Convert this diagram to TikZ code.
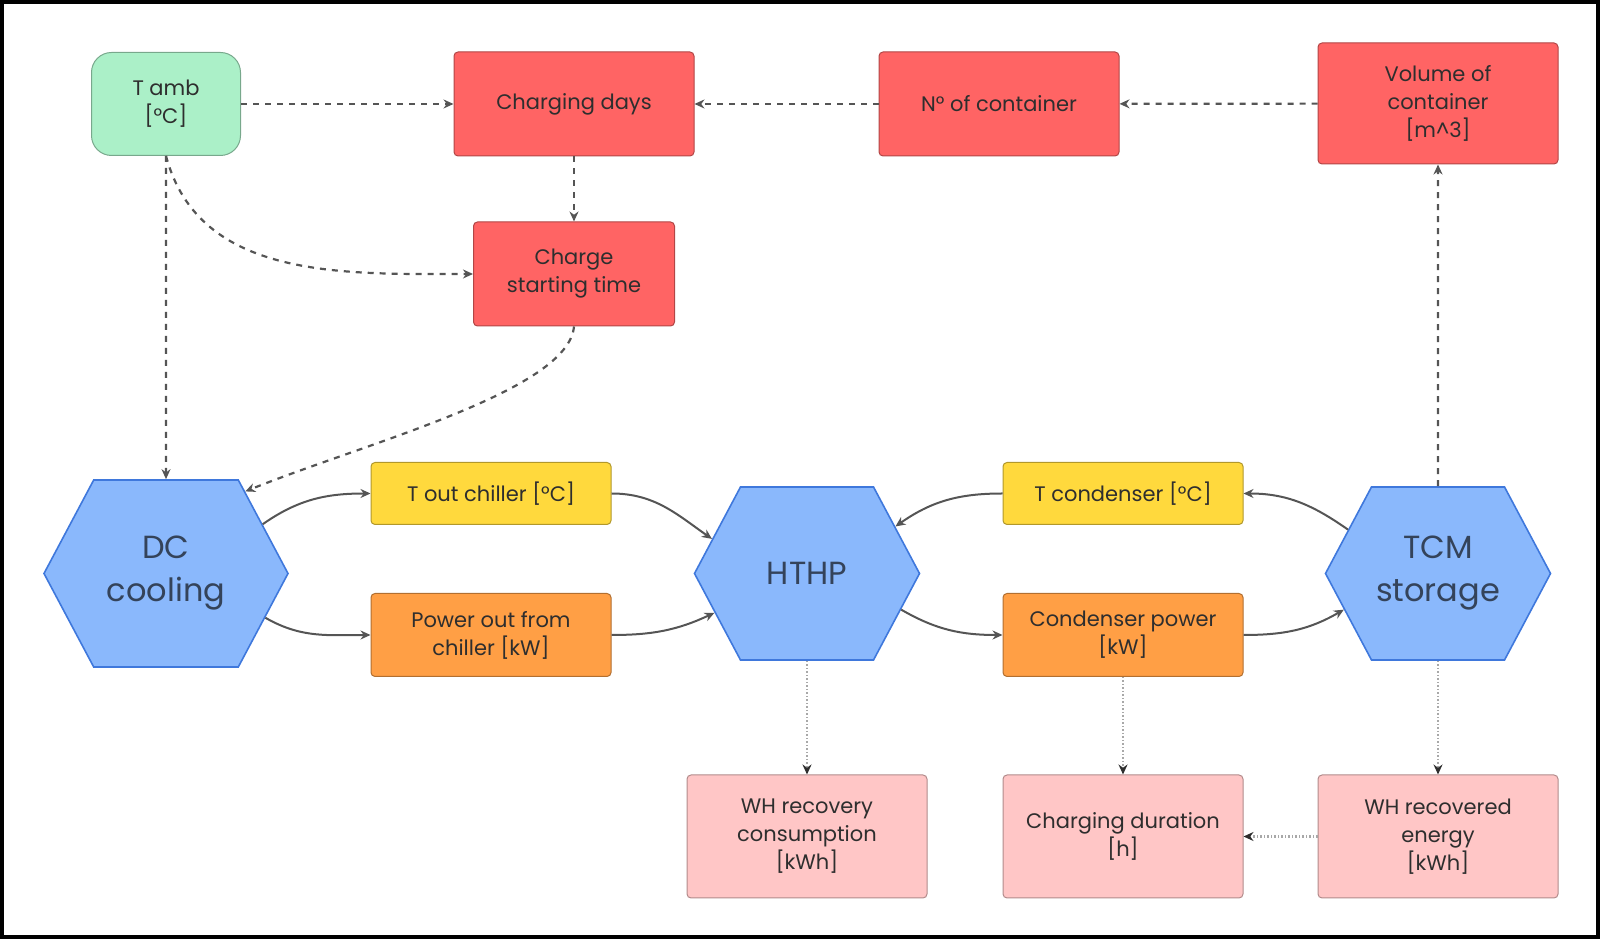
\documentclass[tikz,border=0pt]{standalone}
\usepackage{fontspec}
\setmainfont{Poppins}
\usetikzlibrary{positioning,arrows.meta,shapes.symbols}
\definecolor{InputGreen}{HTML}{ABF0C8}
\definecolor{ParamRed}{HTML}{FF6464}
\definecolor{TempYellow}{HTML}{FFD93D}
\definecolor{PowerOrange}{HTML}{FF9F45}
\definecolor{ResultPink}{HTML}{FFC6C6}
\definecolor{HexFill}{HTML}{8AB8FC}
\definecolor{HexEdge}{HTML}{3F78DC}
\definecolor{HexText}{HTML}{34435A}
\definecolor{TextGray}{HTML}{2E2E2E}
\definecolor{LineGray}{HTML}{555555}
\definecolor{LightLine}{HTML}{A8A8A8}

\begin{document}
\begin{tikzpicture}[
  x=1pt, y=1pt,
  box/.style={draw=#1!70!black, fill=#1, rounded corners=4pt, line width=1pt,
    inner sep=0pt, align=center, text=TextGray, minimum width=240pt,
    font=\fontsize{21}{28}\selectfont},
  hexa/.style={shape=signal, signal to=east and west, signal pointer angle=124,
    draw=HexEdge, fill=HexFill, line width=1.6pt, inner sep=0pt, align=center,
    text=HexText, minimum height=173pt, minimum width=225pt,
    font=\fontsize{32}{43}\selectfont},
  dep/.style={-{Stealth[length=10pt,width=9pt]}, draw=LineGray, line width=2.2pt,
    dash pattern=on 6pt off 6pt},
  flow/.style={-{Stealth[length=10pt,width=9pt]}, draw=LineGray, line width=2pt},
  weak/.style={-{Stealth[length=10pt,width=9pt,color=TextGray]}, draw=LightLine,
    line width=1.5pt, dotted}
]
\useasboundingbox (0,0) rectangle (1600,939);
\draw[line width=4pt] (2,2) rectangle (1598,937);

% inputs and container sizing
\node[box=InputGreen, minimum width=149pt, minimum height=103pt, rounded corners=20pt] (tamb) at (166,835) {T amb\\{[°C]}};
\node[box=ParamRed, minimum height=104pt] (days) at (574,835) {Charging days};
\node[box=ParamRed, minimum height=104pt] (ncont) at (999,835) {N° of container};
\node[box=ParamRed, minimum height=121pt] (vol) at (1438,835.5) {Volume of\\container\\{[m\textasciicircum 3]}};
\node[box=ParamRed, minimum width=201pt, minimum height=104pt] (start) at (574,665) {Charge\\starting time};

% main components
\node[hexa, minimum width=244pt, minimum height=187pt] (dc) at (166,365.5) {DC\\cooling};
\node[hexa] (hthp) at (807,365.5) {HTHP};
\node[hexa] (tcm) at (1438,365.5) {TCM\\storage};

% exchanged quantities
\node[box=TempYellow, minimum height=62pt] (tout) at (491,445.5) {T out chiller [°C]};
\node[box=PowerOrange, minimum height=83pt] (pout) at (491,304) {Power out from\\chiller [kW]};
\node[box=TempYellow, minimum height=62pt] (tcond) at (1123,445.5) {T condenser [°C]};
\node[box=PowerOrange, minimum height=83pt] (cpow) at (1123,304) {Condenser power\\{[kW]}};

% outputs
\node[box=ResultPink, minimum height=123pt] (whcons) at (807,102.5) {WH recovery\\consumption\\{[kWh]}};
\node[box=ResultPink, minimum height=123pt] (chdur) at (1123,102.5) {Charging duration\\{[h]}};
\node[box=ResultPink, minimum height=123pt] (whrec) at (1438,102.5) {WH recovered\\energy\\{[kWh]}};

\draw[dep] (tamb) -- (days);
\draw[dep] (ncont) -- (days);
\draw[dep] (vol) -- (ncont);
\draw[dep] (days) -- (start);
\draw[dep] (tamb) -- (dc);
\draw[dep] (tamb.south) to[out=-75,in=180] (start.west);
\draw[dep] (start.south) to[out=-95,in=22,out looseness=0.45,in looseness=0.9] (dc.46);
\draw[dep] (tcm) -- (vol);

\draw[flow] (dc.27) to[out=35,in=180] (tout.west);
\draw[flow] (dc.-24) to[out=-30,in=180] (pout.west);
\draw[flow] (tout.east) to[out=0,in=145] (hthp.160);
\draw[flow] (pout.east) to[out=0,in=-155] (hthp.203);
\draw[flow] (tcond.west) to[out=180,in=35] (hthp.28);
\draw[flow] (tcm.154) to[out=145,in=0] (tcond.east);
\draw[flow] (hthp.-21) to[out=-30,in=180] (cpow.west);
\draw[flow] (cpow.east) to[out=0,in=-150] (tcm.201);

\draw[weak] (hthp) -- (whcons);
\draw[weak] (cpow) -- (chdur);
\draw[weak] (tcm) -- (whrec);
\draw[weak, line width=3pt] (whrec) -- (chdur);
\end{tikzpicture}
\end{document}
